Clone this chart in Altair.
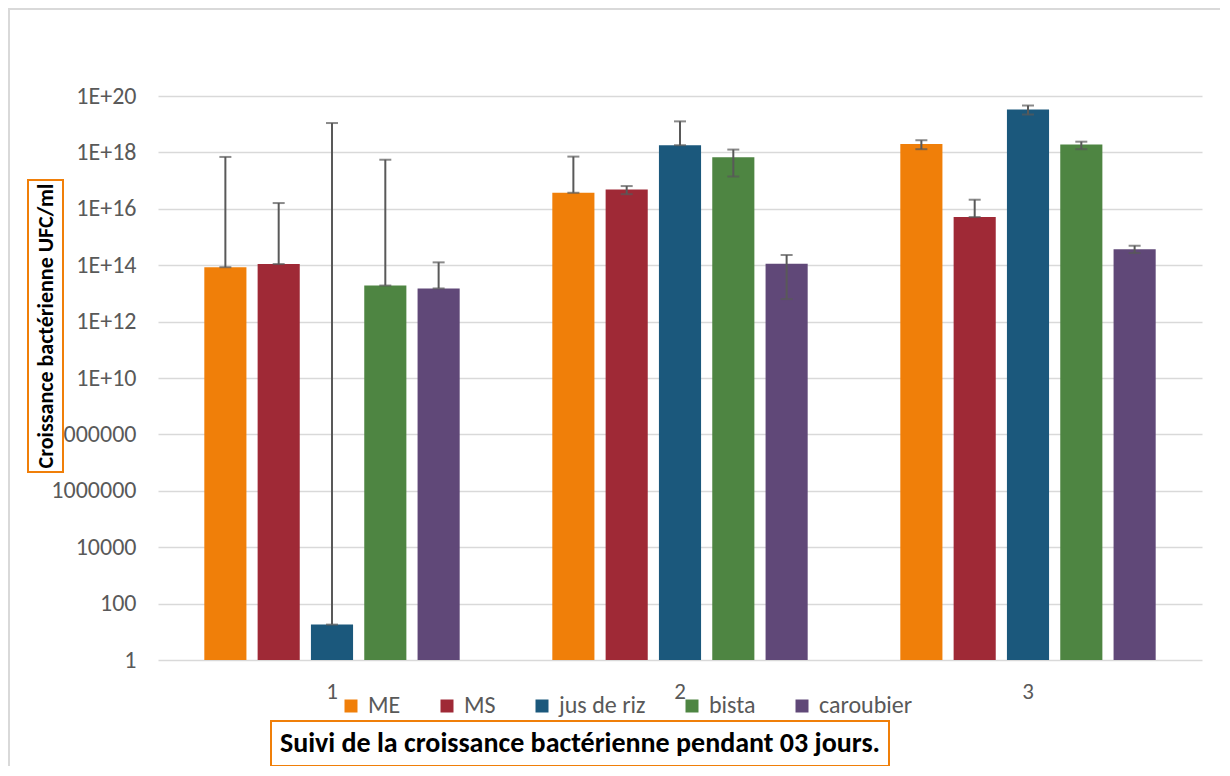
import altair as alt
import pandas as pd

days = ["1", "2", "3"]
series = ["ME", "MS", "jus de riz", "bista", "caroubier"]
colors = ["#F07F09", "#9F2936", "#1B587C", "#4E8542", "#604878"]

# bar heights (UFC/ml) for days 1, 2, 3
values = {
    "ME":         [8.5e13, 3.7e16, 2.0e18],
    "MS":         [1.1e14, 4.8e16, 5.1e15],
    "jus de riz": [18,     1.8e18, 3.3e19],
    "bista":      [1.9e13, 6.7e17, 1.9e18],
    "caroubier":  [1.5e13, 1.13e14, 3.7e14],
}
# error bar upper ends
err_hi = {
    "ME":         [6.9e17, 7.1e17, 2.7e18],
    "MS":         [1.6e16, 6.4e16, 2.1e16],
    "jus de riz": [1.1e19, 1.26e19, 4.6e19],
    "bista":      [5.5e17, 1.26e18, 2.4e18],
    "caroubier":  [1.26e14, 2.3e14, 4.9e14],
}
# error bar lower ends
err_lo = {
    "ME":         [8.5e13, 3.7e16, 1.3e18],
    "MS":         [1.1e14, 3.3e16, 5.1e15],
    "jus de riz": [18,     1.8e18, 2.2e19],
    "bista":      [1.9e13, 1.4e17, 1.3e18],
    "caroubier":  [1.5e13, 6.3e12, 2.7e14],
}

tick_values = [1.0, 1e2, 1e4, 1e6, 1e8, 1e10, 1e12, 1e14, 1e16, 1e18, 1e20]
tick_labels = ["1", "100", "10000", "1000000", "100000000",
               "1E+10", "1E+12", "1E+14", "1E+16", "1E+18", "1E+20"]

y_title = "Croissance bactérienne UFC/ml"
chart_title = "Suivi de la croissance bactérienne pendant 03 jours."

rows = []
for s in series:
    for i, d in enumerate(days):
        rows.append({"day": d, "series": s, "value": values[s][i],
                     "lo": err_lo[s][i], "hi": err_hi[s][i]})
df = pd.DataFrame(rows)

label_expr = ("[" + ",".join("'" + t + "'" for t in tick_labels) + "][indexof(["
              + ",".join(repr(v) for v in tick_values) + "], datum.value)]")

FONT = "Carlito, Lato, sans-serif"
GRAY = "#595959"

x_enc = alt.X("day:N", sort=days,
              scale=alt.Scale(paddingInner=0.234, paddingOuter=0.117),
              axis=alt.Axis(title=None, labelAngle=0, domain=False, ticks=False,
                            labelPadding=20, labelFont=FONT, labelFontSize=23,
                            labelColor=GRAY, zindex=0))
xo_enc = alt.XOffset("series:N", sort=series,
                     scale=alt.Scale(paddingInner=0.21, paddingOuter=0.105))
y_scale = alt.Scale(type="log", domain=[1, 1e20], nice=False)

bars = alt.Chart(df).mark_bar().encode(
    x=x_enc,
    xOffset=xo_enc,
    y=alt.Y("value:Q", scale=y_scale,
            axis=alt.Axis(title=None, values=tick_values, labelExpr=label_expr,
                          domain=False, ticks=False, labelPadding=22,
                          labelFont=FONT, labelFontSize=24, labelColor=GRAY,
                          gridColor="#d9d9d9", gridWidth=1.5, zindex=0)),
    y2=alt.datum(1),
    color=alt.Color("series:N", sort=series,
                    scale=alt.Scale(domain=series, range=colors),
                    legend=alt.Legend(title=None, orient="none", legendX=181, legendY=598,
                                      direction="horizontal", columns=5,
                                      symbolType="square", symbolSize=169,
                                      symbolStrokeWidth=0, labelFont=FONT,
                                      labelFontSize=24, labelColor=GRAY,
                                      labelOffset=5, columnPadding=34, padding=0)),
)

rules = alt.Chart(df).mark_rule(color=GRAY, strokeWidth=2).encode(
    x=alt.X("day:N", sort=days), xOffset=alt.XOffset("series:N", sort=series),
    y=alt.Y("lo:Q"), y2="hi:Q")
caps_hi = alt.Chart(df).mark_tick(color=GRAY, thickness=2, size=12).encode(
    x=alt.X("day:N", sort=days), xOffset=alt.XOffset("series:N", sort=series),
    y=alt.Y("hi:Q"))
caps_lo = alt.Chart(df).mark_tick(color=GRAY, thickness=2, size=12).encode(
    x=alt.X("day:N", sort=days), xOffset=alt.XOffset("series:N", sort=series),
    y=alt.Y("lo:Q"))

one = alt.Data(values=[{"k": 0}])
border = alt.Chart(one).mark_rect(fill=None, stroke="#d9d9d9", strokeWidth=2).encode(
    x=alt.value(-149), x2=alt.value(1300), y=alt.value(-87), y2=alt.value(800))
ybox = alt.Chart(one).mark_rect(fill="white", stroke="#F07F09", strokeWidth=2).encode(
    x=alt.value(-130), x2=alt.value(-95), y=alt.value(84), y2=alt.value(376))
ytext = alt.Chart(one).mark_text(text=y_title, font=FONT, fontWeight="bold", fontSize=22,
                                 angle=270, align="center", baseline="middle",
                                 color="black").encode(
    x=alt.value(-112), y=alt.value(230))
tbox = alt.Chart(one).mark_rect(fill="white", stroke="#F07F09", strokeWidth=2).encode(
    x=alt.value(113), x2=alt.value(731), y=alt.value(625), y2=alt.value(670))
ttext = alt.Chart(one).mark_text(text=chart_title, font=FONT, fontWeight="bold", fontSize=28,
                                 align="center", baseline="middle", color="black").encode(
    x=alt.value(422), y=alt.value(648))

chart = alt.layer(border, bars, rules, caps_hi, caps_lo, ybox, ytext, tbox, ttext).properties(
    width=1044, height=564,
    padding={"left": 150, "top": 88, "right": 18, "bottom": 106},
    autosize=alt.AutoSizeParams(type="none"),
    background="white",
).configure_view(strokeWidth=0)

chart.save("out.html", embed_options={"renderer": "svg", "actions": False})
